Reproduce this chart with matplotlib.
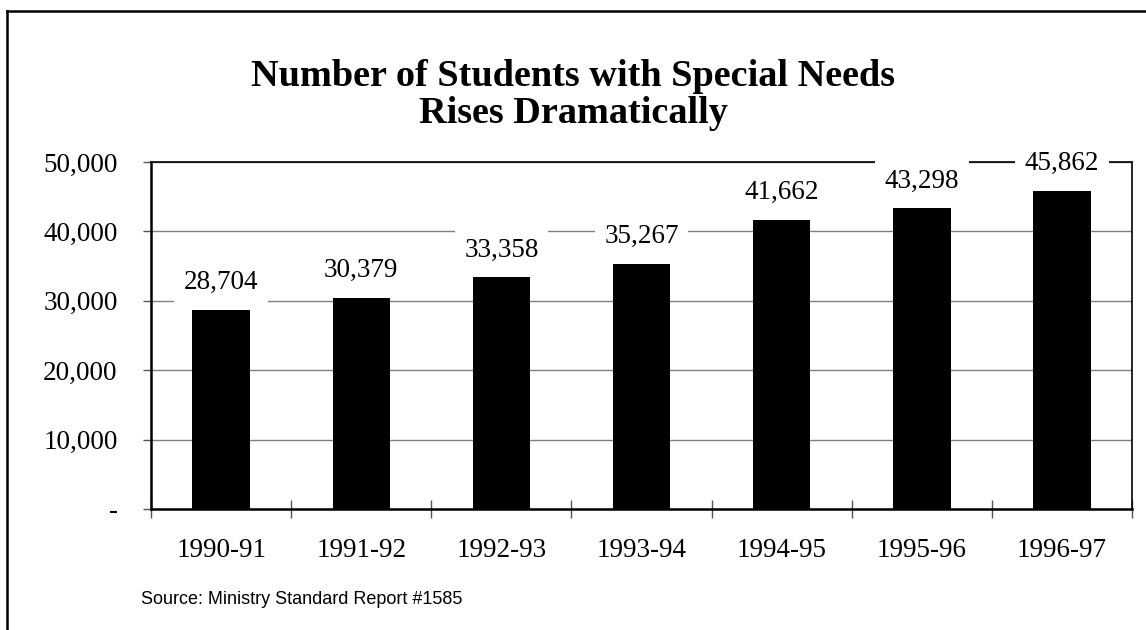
import matplotlib.pyplot as plt
from matplotlib.lines import Line2D
from matplotlib.ticker import FuncFormatter, MultipleLocator
import numpy as np

# Enrolment counts by school year
years = ['1990-91', '1991-92', '1992-93', '1993-94', '1994-95', '1995-96', '1996-97']
students = [28704, 30379, 33358, 35267, 41662, 43298, 45862]

title = 'Number of Students with Special Needs\nRises Dramatically'
source = 'Source: Ministry Standard Report #1585'

serif = 'Liberation Serif'
sans = 'Liberation Sans'

fig = plt.figure(figsize=(11.46, 6.3), dpi=100)
ax = fig.add_axes([0.1318, 0.1921, 0.8560, 0.5508])

x = np.arange(len(years))
ax.bar(x, students, width=0.41, color='black', zorder=2)

# value labels sit on white boxes so they cut through the gridlines
for xi, v in zip(x, students):
    ax.annotate(f'{v:,}', (xi, v), xytext=(0, 15), textcoords='offset points',
                ha='center', va='baseline', fontsize=19.5, fontfamily=serif,
                bbox=dict(boxstyle='square,pad=0.35', fc='white', ec='none'),
                zorder=5, clip_on=False)

ax.set_xlim(-0.5, len(years) - 0.5)
ax.set_ylim(0, 50000)

ax.yaxis.set_major_locator(MultipleLocator(10000))
ax.yaxis.set_major_formatter(FuncFormatter(lambda v, p: '-' if v == 0 else f'{v:,.0f}'))
ax.tick_params(axis='y', direction='out', length=6, width=1, pad=18,
               labelsize=19.5, color='#555555')
for lbl in ax.get_yticklabels():
    lbl.set_fontfamily(serif)

ax.set_xticks(x)
ax.set_xticklabels(years, fontfamily=serif)
ax.set_xticks(np.arange(-0.5, len(years)), minor=True)
ax.tick_params(axis='x', which='major', length=0, pad=21, labelsize=19.5)
ax.tick_params(axis='x', which='minor', direction='inout', length=13, width=1,
               color='#555555')

ax.yaxis.grid(True, color='#808080', linewidth=1)
ax.set_axisbelow(True)

for side in ['top', 'right']:
    ax.spines[side].set_linewidth(1.2)
for side in ['left', 'bottom']:
    ax.spines[side].set_linewidth(1.8)

fig.text(0.5, 1 - 95 / 630, title, ha='center', va='center', fontsize=27.5,
         fontweight='bold', fontfamily=serif, linespacing=1.08)
fig.text(141 / 1146, 1 - 600 / 630, source, ha='left', va='center',
         fontsize=13, fontfamily=sans)

# outer frame (left and top edges)
fig.add_artist(Line2D([7 / 1146, 7 / 1146], [0, 1 - 10.5 / 630],
                      color='black', linewidth=1.8))
fig.add_artist(Line2D([7 / 1146, 1], [1 - 10.5 / 630, 1 - 10.5 / 630],
                      color='black', linewidth=1.8))

fig.savefig('out.png', dpi=100)
